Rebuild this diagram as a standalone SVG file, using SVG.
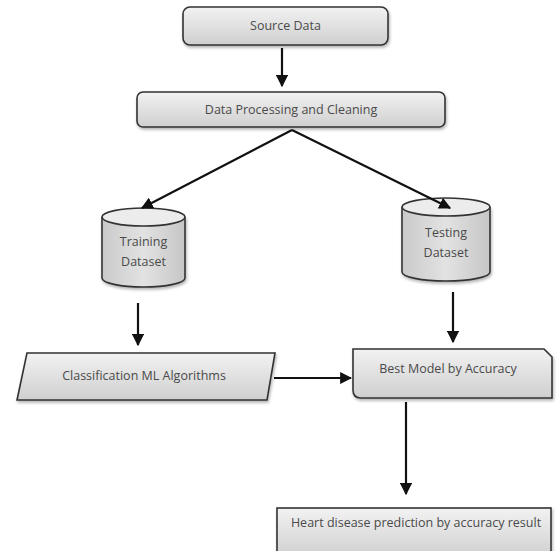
<svg xmlns="http://www.w3.org/2000/svg" width="558" height="551" viewBox="0 0 558 551">
<defs>
<linearGradient id="g" x1="0" y1="0" x2="0" y2="1">
<stop offset="0" stop-color="#f2f2f2"/>
<stop offset="1" stop-color="#cfcfcf"/>
</linearGradient>
<linearGradient id="gh" x1="0" y1="0" x2="1" y2="0">
<stop offset="0" stop-color="#cacaca"/>
<stop offset="0.5" stop-color="#e2e2e2"/>
<stop offset="1" stop-color="#c6c6c6"/>
</linearGradient>
<marker id="ah" viewBox="0 0 10 10" refX="9" refY="5" markerWidth="5.5" markerHeight="5.5" orient="auto" markerUnits="strokeWidth">
<path d="M0,0 L10,5 L0,10 z" fill="#111"/>
</marker>
<filter id="sh" x="-10%" y="-10%" width="120%" height="130%">
<feDropShadow dx="1" dy="2" stdDeviation="1.5" flood-color="#000" flood-opacity="0.3"/>
</filter>
</defs>
<style>
.box{fill:url(#g);stroke:#333;stroke-width:1.6;filter:url(#sh)}
.cyl{fill:url(#gh);stroke:#333;stroke-width:1.6}
.top{fill:#ececec;stroke:#333;stroke-width:1.6}
.t{font-family:"Open Sans","Liberation Sans",sans-serif;font-size:12.5px;fill:#4a4a4a;text-anchor:middle}
.c{stroke:#111;stroke-width:2.2;fill:none;marker-end:url(#ah)}
</style>
<g id="source">
<rect class="box" x="183" y="7" width="205" height="38" rx="7"/>
<text class="t" x="285.5" y="30">Source Data</text>
</g>
<g id="processing">
<rect class="box" x="137" y="92" width="308" height="35" rx="6"/>
<text class="t" x="291" y="114">Data Processing and Cleaning</text>
</g>
<g id="training">
<path class="cyl" d="M102,217 L102,278 A41.5,9 0 0 0 185,278 L185,217" filter="url(#sh)"/>
<ellipse class="top" cx="143.5" cy="217" rx="41.5" ry="9"/>
<text class="t" x="143.5" y="246">Training</text>
<text class="t" x="143.5" y="266">Dataset</text>
</g>
<g id="testing">
<path class="cyl" d="M402,207 L402,272 A44,9 0 0 0 490,272 L490,207" filter="url(#sh)"/>
<ellipse class="top" cx="446" cy="207" rx="44" ry="9"/>
<text class="t" x="446" y="237">Testing</text>
<text class="t" x="446" y="257">Dataset</text>
</g>
<g id="classification">
<polygon class="box" points="27,353 275,353 267,400 17,400"/>
<text class="t" x="144" y="380">Classification ML Algorithms</text>
</g>
<g id="best">
<path class="box" d="M353,349 L544,349 L552,357 L552,398 L361,398 Q353,398 353,390 Z"/>
<text class="t" x="448" y="373">Best Model by Accuracy</text>
</g>
<g id="result">
<rect class="box" x="277" y="508" width="274" height="50"/>
<text class="t" x="416" y="527">Heart disease prediction by accuracy result</text>
</g>
<g id="connectors">
<line class="c" x1="282" y1="48" x2="282" y2="86"/>
<line class="c" x1="292" y1="130" x2="142" y2="208"/>
<line class="c" x1="292" y1="130" x2="450" y2="208"/>
<line class="c" x1="138" y1="303" x2="138" y2="345"/>
<line class="c" x1="453" y1="292" x2="453" y2="342"/>
<line class="c" x1="274" y1="378" x2="351" y2="378"/>
<line class="c" x1="406" y1="402" x2="406" y2="494"/>
</g>
</svg>
